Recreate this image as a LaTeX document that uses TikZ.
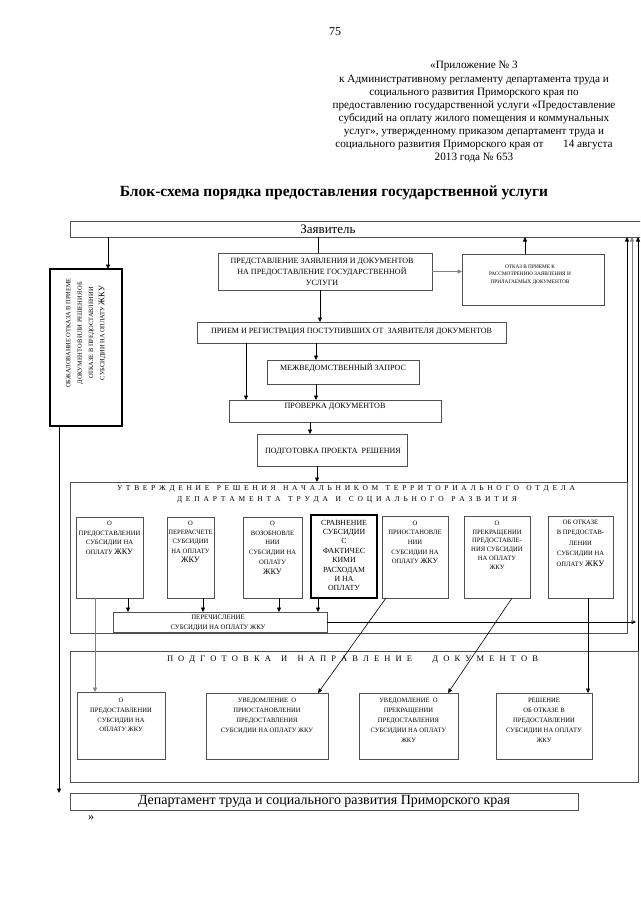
\documentclass[tikz,border=0pt]{standalone}
\usepackage{fontspec}
\setmainfont{Liberation Serif}
\usetikzlibrary{arrows.meta}
\newcommand{\fsz}[2]{\fontsize{#1pt}{#2pt}\selectfont}
\definecolor{bxc}{HTML}{505050}
\definecolor{lnc}{HTML}{808080}
\newcommand{\bx}[6][]{\node[boxst,#1,minimum width={(#4-#2)*1pt},minimum height={(#5-#3)*1pt}] (#6) at (#2,#3) {};}
\begin{document}
\begin{tikzpicture}[x=1pt,y=-1pt,
  boxst/.style={draw=bxc,line width=0.7pt,inner sep=0pt,outer sep=0pt,anchor=north west},
  txt/.style={align=center,inner sep=0pt,outer sep=0pt,anchor=north,text=black},
  one/.style={inner sep=0pt,outer sep=0pt,text=black},
  arr/.style={-{Triangle[length=4.5pt,width=4pt]},line width=0.6pt,draw=black},
  conn/.style={line width=0.6pt,draw=black},
  gconn/.style={-{Triangle[length=4.5pt,width=4pt]},line width=0.7pt,draw=lnc}
]
\useasboundingbox (0,0) rectangle (640,905);
\fill[white] (0,0) rectangle (640,905);
\clip (0,0) rectangle (640,905);

% header
\node[one,font=\fsz{12}{14}] (pgnum) at (335,32) {75};
\node[txt,font=\fsz{11.2}{13.1}] (hdr) at (474,61.5) {«Приложение № 3\\
к Административному регламенту департамента труда и\\
социального развития Приморского края по\\
предоставлению государственной услуги «Предоставление\\
субсидий на оплату жилого помещения и коммунальных\\
услуг», утвержденному приказом департамент труда и\\
социального развития Приморского края от \hspace{14pt} 14 августа\\
2013 года № 653};
\node[one,font=\bfseries\fsz{15.5}{17}] (ttl) at (334,193) {Блок-схема порядка предоставления государственной услуги};

% applicant
\bx{70}{221}{660}{237}{zv}
\node[one,font=\fsz{13}{15}] (zvt) at (328,229) {Заявитель};

% appeal box
\bx[line width=1.4pt,draw=black]{50}{269}{122}{426}{ob}
\node[one,rotate=90,align=center,font=\fsz{6.4}{11.3}] (obt) at (86,333) {ОБЖАЛОВАНИЕ ОТКАЗА В ПРИЕМЕ\\ДОКУМЕНТОВ ИЛИ РЕШЕНИЯ ОБ\\ОТКАЗЕ В ПРЕДОСТАВЛЕНИИ\\СУБСИДИИ НА ОПЛАТУ {\fsz{8.5}{11.3}ЖКУ}};

% main flow
\bx{218}{253}{432}{290}{pr}
\node[txt,font=\fsz{8}{11}] (prt) at (322,258) {ПРЕДСТАВЛЕНИЕ ЗАЯВЛЕНИЯ И ДОКУМЕНТОВ\\НА ПРЕДОСТАВЛЕНИЕ ГОСУДАРСТВЕННОЙ\\УСЛУГИ};

\bx{462}{254}{604}{305}{ot}
\node[txt,font=\fsz{5.3}{7.6}] (ott) at (530,264.5) {ОТКАЗ В ПРИЕМЕ К\\РАССМОТРЕНИЮ ЗАЯВЛЕНИЯ И\\ПРИЛАГАЕМЫХ ДОКУМЕНТОВ};

\bx{197}{322}{506}{343}{pm}
\node[one,font=\fsz{8}{9}] (pmt) at (351.5,331.5) {ПРИЕМ И РЕГИСТРАЦИЯ ПОСТУПИВШИХ ОТ \ ЗАЯВИТЕЛЯ ДОКУМЕНТОВ};

\bx{267}{360}{419}{384}{mz}
\node[one,font=\fsz{8}{9}] (mzt) at (343,367.5) {МЕЖВЕДОМСТВЕННЫЙ ЗАПРОС};

\bx{229}{400}{441}{422}{pv}
\node[one,font=\fsz{8.1}{9}] (pvt) at (335,407) {ПРОВЕРКА ДОКУМЕНТОВ};

\bx{257}{434}{407}{466}{pp}
\node[one,font=\fsz{8}{9}] (ppt) at (333,452) {ПОДГОТОВКА ПРОЕКТА \ РЕШЕНИЯ};

% decision block
\bx{70}{482}{627}{633}{ut}
\node[one,font=\fsz{7.5}{9}] (ut1) at (346,489) {\makebox[458pt][s]{У Т В Е Р Ж Д Е Н И Е\ \ Р Е Ш Е Н И Я\ \ Н А Ч А Л Ь Н И К О М\ \ Т Е Р Р И Т О Р И А Л Ь Н О Г О\ \ О Т Д Е Л А}};
\node[one,font=\fsz{7.5}{9}] (ut2) at (347,499.5) {\makebox[340pt][s]{Д Е П А Р Т А М Е Н Т А\ \ Т Р У Д А\ \ И\ \ С О Ц И А Л Ь Н О Г О\ \ Р А З В И Т И Я}};

\bx{76}{517}{143}{598}{s1}
\node[txt,font=\fsz{6.6}{9.7}] (s1t) at (s1.north |- 0,521) {О\\ПРЕДОСТАВЛЕНИИ\\СУБСИДИИ НА\\ОПЛАТУ {\fsz{8.3}{9.7}ЖКУ}};
\bx{167}{517}{214}{598}{s2}
\node[txt,font=\fsz{6.6}{9.3}] (s2t) at (s2.north |- 0,521) {О\\ПЕРЕРАСЧЕТЕ\\СУБСИДИИ\\НА ОПЛАТУ\\{\fsz{8.3}{9.3}ЖКУ}};
\bx{243}{517}{302}{598}{s3}
\node[txt,font=\fsz{6.6}{9.8}] (s3t) at (s3.north |- 0,521) {О\\ВОЗОБНОВЛЕ\\НИИ\\СУБСИДИИ НА\\ОПЛАТУ\\{\fsz{8.3}{9.8}ЖКУ}};
\bx[line width=1.3pt,draw=black]{311}{515}{377}{598}{s4}
\node[txt,font=\fsz{7.8}{9.4}] (s4t) at (s4.north |- 0,520) {СРАВНЕНИЕ\\СУБСИДИИ\\С\\ФАКТИЧЕС\\КИМИ\\РАСХОДАМ\\И НА\\ОПЛАТУ};
\bx{382}{516}{448}{598}{s5}
\node[txt,font=\fsz{6.6}{9.6}] (s5t) at (s5.north |- 0,521) {О\\ПРИОСТАНОВЛЕ\\НИИ\\СУБСИДИИ НА\\ОПЛАТУ {\fsz{7.8}{9.6}ЖКУ}};
\bx{464}{516}{530}{598}{s6}
\node[txt,font=\fsz{6.6}{8.8}] (s6t) at (s6.north |- 0,521) {О\\ПРЕКРАЩЕНИИ\\ПРЕДОСТАВЛЕ-\\НИЯ СУБСИДИИ\\НА ОПЛАТУ\\ЖКУ};
\bx{548}{516}{613}{598}{s7}
\node[txt,font=\fsz{6.6}{10.5}] (s7t) at (s7.north |- 0,520) {ОБ ОТКАЗЕ\\В ПРЕДОСТАВ-\\ЛЕНИИ\\СУБСИДИИ НА\\ОПЛАТУ {\fsz{8.5}{10.5}ЖКУ}};

\bx{113}{612}{327}{632}{pc}
\node[txt,font=\fsz{6.8}{10}] (pct) at (218,614.5) {ПЕРЕЧИСЛЕНИЕ\\СУБСИДИИ НА ОПЛАТУ ЖКУ};

% documents block
\bx{70}{651}{638}{782}{pd}
\node[one,font=\fsz{8.5}{10}] (pdt) at (352.5,660) {\makebox[371pt][s]{П О Д Г О Т О В К А\ \ И\ \ Н А П Р А В Л Е Н И Е\ \ \ \ Д О К У М Е Н Т О В}};

\bx{77}{692}{165}{759}{b1}
\node[txt,font=\fsz{6.6}{9.7}] (b1t) at (b1.north |- 0,698.5) {О\\ПРЕДОСТАВЛЕНИИ\\СУБСИДИИ НА\\ОПЛАТУ ЖКУ};
\bx{206}{693}{328}{759}{b2}
\node[txt,font=\fsz{6.6}{10}] (b2t) at (b2.north |- 0,698.5) {УВЕДОМЛЕНИЕ \ О\\ПРИОСТАНОВЛЕНИИ\\ПРЕДОСТАВЛЕНИЯ\\СУБСИДИИ НА ОПЛАТУ ЖКУ};
\bx{359}{693}{458}{759}{b3}
\node[txt,font=\fsz{6.6}{10}] (b3t) at (b3.north |- 0,698) {УВЕДОМЛЕНИЕ \ О\\ПРЕКРАЩЕНИИ\\ПРЕДОСТАВЛЕНИЯ\\СУБСИДИИ НА ОПЛАТУ\\ЖКУ};
\bx{496}{693}{592}{759}{b4}
\node[txt,font=\fsz{6.6}{10}] (b4t) at (b4.north |- 0,698) {РЕШЕНИЕ\\ОБ ОТКАЗЕ В\\ПРЕДОСТАВЛЕНИИ\\СУБСИДИИ НА ОПЛАТУ\\ЖКУ};

% department
\bx{70}{793}{578}{810}{dp}
\node[one,font=\fsz{14}{15}] (dpt) at (324,801.5) {Департамент труда и социального развития Приморского края};
\node[one,font=\fsz{12}{14}] (quo) at (91,818) {»};

% connectors
\draw[arr] ([xshift=22pt]ob.north |- zv.south) -- ([xshift=22pt]ob.north);
\draw[conn] ([xshift=-7pt]pr.north |- zv.south) -- ([xshift=-7pt]pr.north);
\draw[gconn] (pr.east) -- (pr.east -| ot.west);
\draw[arr] ([xshift=-8pt]ot.north) -- ([xshift=-8pt]ot.north |- zv.south);
\draw[arr] ([xshift=-5pt]pr.south) -- ([xshift=-5pt]pr.south |- pm.north);
\draw[arr] ([xshift=-27pt]mz.north |- pm.south) -- ([xshift=-27pt]mz.north);
\draw[arr] ([xshift=-89pt]pv.north |- pm.south) -- ([xshift=-89pt]pv.north);
\draw[arr] ([xshift=-27pt]mz.south) -- ([xshift=-27pt]mz.south |- pv.north);
\draw[arr] ([xshift=-25pt]pv.south) -- ([xshift=-25pt]pv.south |- pp.north);
\draw[arr] ([xshift=-15pt]pp.south) -- ([xshift=-15pt]pp.south |- ut.north);

\draw[arr] ([xshift=18.5pt]s1.south) -- ([xshift=18.5pt]s1.south |- pc.north);
\draw[arr] ([xshift=12.5pt]s2.south) -- ([xshift=12.5pt]s2.south |- pc.north);
\draw[arr] ([xshift=6.5pt]s3.south) -- ([xshift=6.5pt]s3.south |- pc.north);
\draw[arr] ([xshift=-26pt]s4.south) -- ([xshift=-26pt]s4.south |- pc.north);

\coordinate (rB) at ([xshift=5pt]ut.east |- pc.east);
\draw[arr] (pc.east) -- ([xshift=4pt]rB);
\draw[gconn] (rB) -- (rB |- zv.south);
\draw[arr] (ut.north east) -- (ut.north east |- zv.south);
\draw[arr] (pd.north east) -- (pd.north east |- zv.south);

\draw[gconn] ([xshift=-14.5pt]s1.south) -- ([xshift=-26pt]b1.north);
\draw[arr] ([xshift=-29pt]s5.south) -- ([xshift=51pt]b2.north);
\draw[arr] ([xshift=15pt]s6.south) -- ([xshift=39.5pt]b3.north);
\draw[arr] ([xshift=7.5pt]s7.south) -- ([xshift=44pt]b4.north);

\draw[arr] ([xshift=-27pt]ob.south) -- ([xshift=-27pt]ob.south |- dp.north);
\end{tikzpicture}
\end{document}
